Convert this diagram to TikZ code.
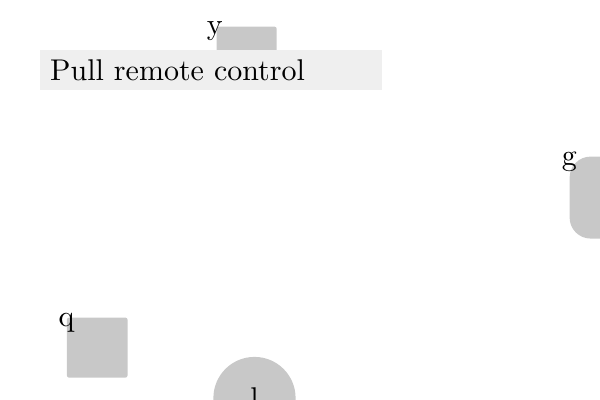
\documentclass[tikz,border=0pt]{standalone}
\begin{document}
\begin{tikzpicture}[x=1pt,y=-1pt,
  shapefill/.style={fill={rgb,255:red,200;green,200;blue,200}, draw=none},
  lbl/.style={anchor=base, inner sep=0pt, font=\normalsize}]
\useasboundingbox (0,0) rectangle (200,133.333);
% y rect (behind title)
\node[shapefill, rectangle, rounded corners=0.7pt, minimum width=20pt, minimum height=20pt, inner sep=0pt, anchor=north west] (ybox) at (72,8.67) {};
\node[lbl] (ylab) at (71.6,11.6) {y};
% title
\node[fill={rgb,255:red,239;green,239;blue,239}, draw=none, rectangle, inner xsep=3.333pt, inner ysep=3.03pt, text width=107.33pt, align=left, minimum height=13pt, anchor=north west] (title) at (13.2,16.55) {Pull remote control};
% g rounded shape
\node[shapefill, rectangle, rounded corners=7pt, minimum width=24pt, minimum height=27.33pt, inner sep=0pt, anchor=north west] (gbox) at (189.67,52) {};
\node[lbl] (glab) at (189.8,55.3) {g};
% q square
\node[shapefill, rectangle, rounded corners=0.7pt, minimum width=20.2pt, minimum height=20pt, inner sep=0pt, anchor=north west] (qbox) at (22.1,105.67) {};
\node[lbl] (qlab) at (22.2,108.7) {q};
% circle l
\node[shapefill, circle, minimum size=27.4pt, inner sep=0pt] (lcirc) at (84.83,132.67) {l};
\end{tikzpicture}
\end{document}
